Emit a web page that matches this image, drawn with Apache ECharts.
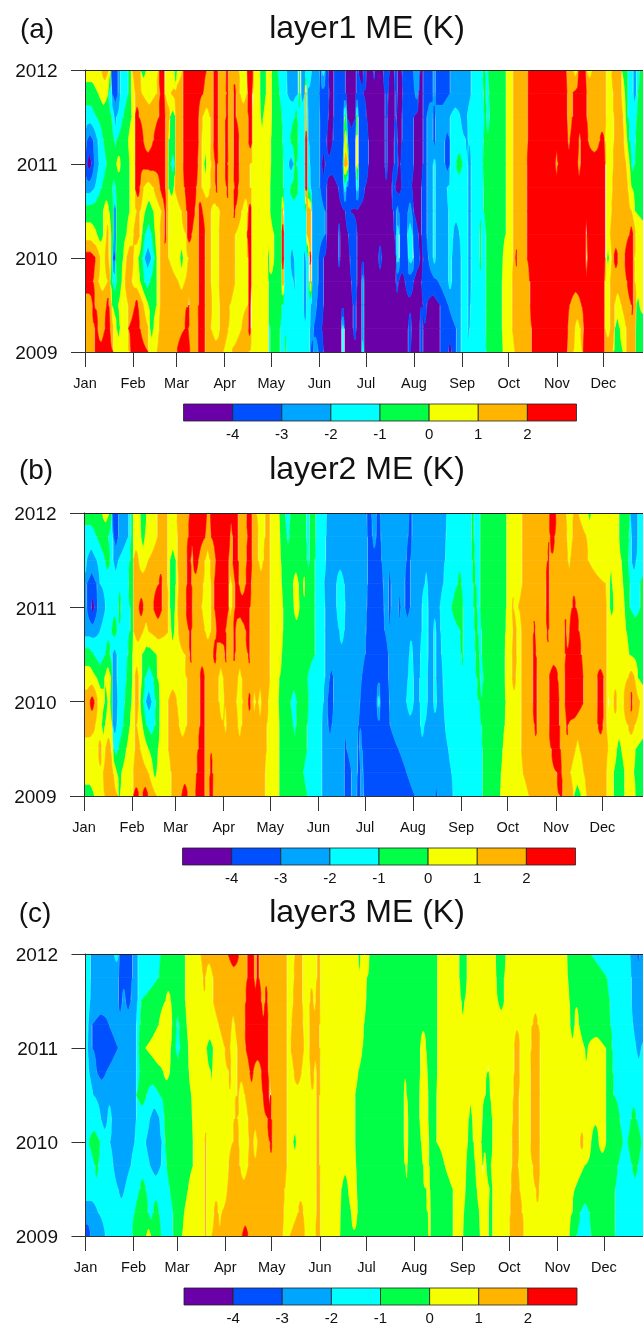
<!DOCTYPE html>
<html><head><meta charset="utf-8">
<style>html,body{margin:0;padding:0;background:#fff;overflow:hidden}#c{width:643px;height:1324px}</style>
<script src="https://cdn.jsdelivr.net/npm/echarts@6/dist/echarts.min.js"></script>
</head><body><div id="c"></div>
<script>
const monthNames=['Jan','Feb','Mar','Apr','May','Jun','Jul','Aug','Sep','Oct','Nov','Dec'];
const monthStartDays=[0,31,59,90,120,151,181,212,243,273,304,334];
const rowYears=[2012,2011.75,2011.5,2011.25,2011,2010.75,2010.5,2010.25,2010,2009.75,2009.5,2009.25,2009];
const bandColors=['#6a00a8','#0050ff','#00a5ff','#00ffff','#00ff46','#f5ff00','#ffb400','#ff0000'];
const colorbarLevels=[-5,-4,-3,-2,-1,0,1,2,3];
const layerTitles=['layer1 ME (K)','layer2 ME (K)','layer3 ME (K)'];
const panelTags=['(a)','(b)','(c)'];
// Each row lists band index, then the position where that band ends.
// Reading unit: 4.656 units per day of year; the three lists cover successive stretches of the year.
const layer1Left=[
[5,50,6,70,5,78,1,100,2,106,3,130,4,138,5,142,6,166,4,184,5,222,7,240,5,268,3,276,5,294,7,365,6,386,7,400,6,423,7,430,6,462,5,486,7,505,5,524,4,544,5,555],
[4,40,5,70,3,80,1,100,2,106,3,130,4,138,5,150,6,170,5,215,6,224,7,238,5,258,6,294,7,355,6,385,7,400,6,424,7,430,6,445,7,452,6,465,5,487,7,503,5,525,4,543,5,555],
[3,35,4,80,3,88,2,95,3,115,4,140,5,150,7,162,6,222,7,240,6,255,4,272,6,295,7,340,6,352,5,375,6,385,7,400,6,422,7,430,6,445,7,452,6,490,7,502,5,527,4,535,5,555],
[2,5,1,25,2,38,3,55,4,88,3,95,4,130,5,150,7,175,6,205,7,240,6,250,4,272,6,295,7,340,6,350,5,375,6,385,7,400,6,420,7,430,6,445,7,462,6,490,7,502,5,555],
[1,5,0,20,1,28,2,42,3,65,4,95,5,107,4,135,5,150,7,240,6,250,4,258,3,270,4,272,6,295,7,338,6,350,5,358,4,365,5,378,6,390,7,398,6,420,7,428,6,445,7,462,6,495,5,555],
[2,30,3,50,4,82,3,92,4,135,5,150,7,165,6,175,5,205,6,225,7,240,6,250,4,268,6,298,7,335,6,350,5,375,6,392,7,398,6,425,7,430,6,448,7,460,6,495,5,555],
[4,55,5,72,4,85,2,95,4,135,5,155,6,165,5,180,4,205,5,230,6,238,7,243,6,250,5,290,6,305,7,330,6,340,7,352,6,378,5,405,6,445,7,450,6,470,5,490,7,500,5,555],
[5,35,4,55,5,65,6,70,5,78,4,85,2,95,4,125,5,145,6,165,5,170,4,180,3,200,4,210,5,225,6,238,7,243,6,250,5,305,7,320,6,340,7,360,6,378,5,402,6,450,5,485,7,500,5,555],
[7,32,6,45,5,60,6,70,5,78,4,82,1,92,4,115,5,125,6,145,5,160,4,172,3,178,2,200,3,208,4,215,5,225,6,250,5,285,4,295,5,310,6,340,7,360,6,378,5,402,6,450,5,490,7,500,5,548,4,552,5,555],
[7,25,6,40,5,68,6,75,4,82,3,95,4,110,5,120,6,140,5,165,4,178,3,195,4,215,5,225,6,280,5,300,6,340,7,360,6,378,5,402,6,450,5,490,7,500,5,550,4,555],
[6,22,7,30,6,65,7,72,6,80,4,100,5,130,6,150,7,160,6,175,5,190,4,215,5,225,6,310,7,314,6,340,7,360,6,380,5,405,6,435,5,490,7,498,5,550,4,555],
[6,30,7,38,6,60,7,75,6,85,5,95,4,105,5,130,7,165,6,190,5,195,4,205,5,222,6,300,7,310,6,338,7,360,6,378,5,405,6,430,5,470,6,490,7,498,5,550,3,555],
[6,30,7,85,5,135,7,190,5,215,6,275,7,315,6,338,7,360,6,415,5,440,6,490,5,550,3,555]];
const layer1Mid=[
[5,4,4,22,3,50,2,85,4,92,2,110,3,125,2,150,1,155,3,165,1,175,0,190,1,225,0,258,1,265,0,280,1,290,0,310,1,315,0,340,1,358,0,372,1,382,0,395,1,430,2,450,0,458,1,490,2,495,1,540,2,549],
[5,5,4,28,3,52,2,85,4,92,2,105,6,110,2,148,1,178,0,190,1,225,0,258,1,280,0,345,1,355,0,375,1,382,0,398,1,435,2,445,0,458,1,490,2,497,1,540,2,549],
[5,5,4,35,3,75,4,82,3,105,6,110,3,115,2,150,1,175,0,190,1,222,4,230,0,258,4,264,1,290,0,345,1,352,0,375,1,380,0,395,1,432,0,458,1,470,2,490,1,497,2,540,3,549],
[5,3,4,38,3,60,4,85,3,105,7,112,3,115,2,150,1,170,0,188,1,222,5,232,1,258,5,264,1,295,0,345,1,352,0,372,1,382,0,395,1,430,0,458,1,470,2,490,1,497,2,525,1,540,3,549],
[5,3,4,40,3,55,2,72,4,80,3,105,7,112,3,120,2,150,1,155,0,165,1,220,6,235,1,258,5,265,1,295,0,345,1,352,0,372,1,385,0,392,1,432,0,458,1,470,2,490,3,497,2,525,1,540,3,549],
[4,40,3,60,4,85,3,105,7,112,3,122,2,150,1,170,0,205,1,222,3,228,1,258,3,265,1,285,0,365,1,375,0,395,1,425,0,455,1,470,2,490,3,497,2,530,3,549],
[4,35,6,41,3,110,6,124,2,165,1,170,0,225,1,240,0,370,1,380,2,385,1,415,2,425,1,430,0,455,1,470,2,490,3,497,2,535,3,549],
[5,12,4,35,7,42,3,110,6,124,2,165,1,170,0,205,1,210,0,235,1,262,0,375,1,380,3,388,1,412,3,428,1,445,0,455,1,470,2,490,3,497,2,535,3,549],
[5,12,4,35,7,42,3,60,2,72,3,100,2,108,3,118,7,124,2,145,1,160,0,205,1,210,0,240,1,260,0,325,1,335,0,380,3,388,1,415,3,430,1,450,0,458,1,475,2,490,3,497,2,535,3,545,2,549],
[4,35,6,42,3,70,2,75,3,100,2,110,3,118,6,125,2,145,1,160,0,245,1,262,0,275,2,282,0,378,1,385,0,405,1,430,0,455,1,505,2,535,3,545,2,549],
[4,35,3,100,2,110,3,122,2,140,1,160,0,250,1,258,0,275,2,282,0,460,1,470,0,510,1,535,2,549],
[4,30,3,120,2,130,1,155,0,215,3,222,0,250,1,258,0,275,2,282,0,415,1,425,0,450,1,458,0,510,1,549],
[4,30,3,45,4,50,3,120,1,130,2,145,1,160,0,215,3,222,0,275,3,282,0,415,1,420,0,450,1,458,0,510,1,535,0,545,1,549]];
const layer1Right=[
[2,55,3,90,4,97,3,105,4,160,5,180,6,225,7,340,6,360,5,375,7,400,5,418,6,460,5,475,6,505,4,525,3,540,2,550,3,560,4,570],
[2,55,3,92,4,98,3,108,4,160,5,180,6,225,7,342,6,358,7,400,6,460,5,480,6,505,5,515,4,525,3,540,2,550,3,555,4,570],
[3,22,2,42,3,95,4,100,3,110,4,160,5,180,6,225,7,342,6,358,7,400,6,460,5,482,6,510,5,518,4,525,3,550,4,570],
[3,38,2,45,3,92,4,160,5,180,6,225,7,345,6,350,7,378,6,382,7,405,6,440,7,455,5,482,6,512,5,522,4,530,3,548,4,570],
[3,10,4,28,3,45,2,55,3,90,4,160,5,180,6,222,7,308,6,314,7,375,6,382,7,458,5,480,6,520,5,530,4,535,3,545,4,570],
[3,45,2,55,3,92,4,158,5,180,6,222,7,458,5,478,6,525,5,535,4,570],
[3,45,2,55,3,92,4,158,5,180,6,222,7,458,5,475,6,535,5,545,4,570],
[2,20,3,45,2,55,3,80,4,85,3,98,4,158,5,180,6,222,7,398,6,402,7,458,5,472,6,530,7,540,6,548,5,570],
[2,25,3,45,2,55,3,80,4,85,3,98,4,150,5,180,6,188,7,192,6,222,7,398,5,402,7,458,5,462,4,468,5,475,6,482,7,495,6,515,7,542,5,570],
[2,25,3,45,2,55,3,98,4,148,5,178,6,230,7,455,5,472,6,522,7,540,6,545,5,570],
[2,25,3,45,2,52,3,98,4,148,5,178,6,232,7,350,6,385,7,455,5,472,6,485,5,505,6,535,7,540,6,550,4,560,5,570],
[1,10,2,25,3,45,2,50,3,98,4,148,5,178,6,235,7,345,6,365,5,382,6,392,7,455,5,472,6,485,4,500,5,520,6,548,4,570],
[1,10,2,25,3,100,4,150,5,185,6,235,7,342,6,362,5,390,7,455,6,480,4,510,5,520,6,548,4,570]];
const layer2Left=[
[4,52,5,72,4,80,1,100,2,130,3,138,4,145,5,165,4,185,5,218,6,248,5,275,6,312,7,365,6,375,7,460,6,485,7,500,6,515,5,540,6,555],
[3,35,4,70,3,85,1,100,2,130,3,138,4,145,5,168,4,180,5,218,6,248,5,278,6,310,7,362,6,378,7,435,6,442,7,460,6,487,7,500,6,520,5,540,6,555],
[3,5,2,35,3,60,4,75,3,85,2,100,3,135,4,145,6,160,5,190,6,248,5,255,4,272,5,278,6,305,7,318,6,325,7,340,6,360,5,375,6,392,7,432,6,442,7,460,6,485,7,500,6,520,5,535,6,555],
[2,5,1,35,2,45,3,130,4,145,6,222,7,232,6,248,5,255,4,272,5,280,6,305,7,320,6,355,5,378,6,388,7,432,5,440,6,450,7,462,6,482,7,498,6,555],
[2,5,1,18,0,28,1,38,2,62,3,100,4,108,3,135,4,145,6,162,7,175,6,205,7,232,6,250,5,255,4,270,5,278,6,302,7,322,6,350,5,378,6,388,7,432,5,440,6,450,7,495,6,555],
[2,45,3,80,4,95,3,135,4,145,6,175,5,190,6,250,5,258,4,268,5,280,6,312,7,320,6,360,5,378,6,395,7,422,6,445,7,452,6,482,7,495,6,555],
[4,25,3,62,4,75,3,82,2,95,3,128,4,143,5,170,4,215,5,300,6,315,7,320,6,385,7,395,6,420,7,425,6,445,7,450,6,490,7,495,6,555],
[5,35,4,58,5,78,4,82,2,95,3,125,4,143,5,150,6,160,5,170,4,180,3,205,4,218,5,305,6,345,7,358,6,400,5,415,6,458,5,470,6,555],
[6,15,7,28,6,38,5,58,4,68,5,75,4,82,2,98,3,120,4,140,5,150,6,160,5,165,4,175,3,182,2,200,3,212,4,225,5,250,6,275,5,305,6,345,7,358,6,402,5,418,6,455,5,472,6,490,7,497,6,505,5,512,6,520,5,530,6,550,5,555],
[6,30,5,50,4,60,5,82,2,95,3,115,4,135,5,150,6,155,5,172,4,185,3,210,4,225,5,250,6,282,5,305,6,345,7,358,6,418,5,425,6,458,5,470,6,545,5,555],
[5,40,6,50,5,62,6,78,5,85,3,100,4,125,5,150,6,165,5,190,4,220,5,250,6,340,7,358,6,545,5,555],
[5,55,6,85,5,95,4,110,5,145,6,190,5,205,4,215,5,258,6,335,7,358,6,375,7,382,6,540,5,555],
[4,28,5,58,6,100,4,105,5,145,7,162,6,172,7,190,6,215,5,260,6,290,7,308,6,332,7,360,6,372,7,385,6,540,5,555]];
const layer2Mid=[
[5,28,4,45,3,60,4,110,3,118,4,138,3,170,2,290,1,305,2,320,1,330,2,418,1,425,2,530,3,549],
[5,30,4,50,3,58,4,110,3,118,4,138,3,168,2,292,1,308,2,318,1,332,2,415,1,425,2,528,3,549],
[5,32,4,112,3,118,4,135,3,168,2,292,1,335,2,410,1,420,2,525,3,549],
[5,35,4,70,5,85,4,100,5,105,4,135,3,162,2,200,3,222,2,292,1,340,2,355,1,362,2,405,1,420,2,465,3,472,2,520,3,549],
[5,38,4,72,5,88,4,135,3,165,2,200,3,225,2,290,1,342,2,355,1,362,2,385,1,392,2,405,1,420,2,455,3,475,2,510,3,545,4,549],
[5,38,4,135,3,165,2,208,3,222,2,288,1,345,2,455,3,475,2,490,3,498,2,512,3,549],
[5,35,4,135,3,165,2,285,1,355,2,418,3,428,2,452,3,475,2,490,3,498,2,515,3,549],
[5,28,4,112,3,165,2,178,1,190,2,275,1,355,2,415,3,430,2,450,3,472,2,490,3,498,2,518,3,549],
[5,25,4,62,3,80,4,115,3,160,2,172,1,190,2,270,1,322,3,330,1,358,2,410,3,430,2,450,3,472,2,490,3,500,2,520,3,549],
[5,28,4,70,3,78,4,112,3,155,2,175,1,185,2,265,1,360,2,452,3,462,2,525,3,549],
[5,28,4,112,3,155,2,222,1,230,2,262,1,268,2,275,1,385,2,535,3,549],
[5,28,4,100,3,155,2,222,1,245,2,262,1,272,2,280,1,410,2,545,3,549],
[5,28,4,112,3,155,2,222,1,245,2,260,1,272,2,282,1,435,2,495,1,502,2,549]];
const layer2Right=[
[3,55,4,62,3,82,4,160,5,208,6,288,7,310,6,340,5,360,6,375,5,405,4,415,5,498,4,530,2,555,3,570],
[3,55,4,62,3,82,4,160,5,208,6,292,7,305,6,342,5,358,6,400,5,498,4,528,3,535,2,555,3,570],
[3,58,4,65,3,82,4,160,5,208,6,285,7,288,6,345,5,352,6,405,5,505,4,525,3,535,2,550,3,570],
[3,15,4,25,3,60,4,68,3,82,4,160,5,208,6,280,7,288,6,458,5,470,4,478,5,510,4,530,3,560,4,570],
[4,30,3,62,4,72,3,82,4,160,5,178,6,182,5,195,6,280,7,288,6,358,7,368,6,460,5,470,4,482,5,515,4,530,3,562,4,570],
[3,22,4,30,3,65,4,75,3,85,4,158,5,180,6,190,5,205,6,242,7,246,6,282,7,287,6,335,7,340,6,350,7,378,6,460,5,520,4,570],
[3,25,4,30,3,68,4,78,3,85,4,155,5,178,6,190,5,205,6,240,7,248,6,338,7,385,6,460,5,528,4,570],
[3,72,4,82,3,90,4,155,5,178,6,188,5,205,6,240,7,252,6,288,7,315,6,335,7,390,6,432,7,452,6,460,5,525,6,545,5,555,4,570],
[3,80,4,158,5,205,6,240,7,252,6,288,7,318,6,335,7,392,6,432,7,452,6,460,5,465,4,468,5,482,6,492,5,512,6,532,7,538,6,560,5,570],
[3,85,4,155,5,205,6,245,7,252,6,288,7,320,6,340,7,345,6,435,7,450,6,460,5,525,6,545,5,570],
[3,88,4,150,5,205,6,295,7,322,6,368,5,380,6,465,5,492,4,505,5,548,4,570],
[3,88,4,145,5,210,6,312,7,325,6,352,5,392,6,460,5,482,4,515,5,542,4,570],
[3,88,4,142,5,228,6,322,7,328,6,362,4,385,5,400,6,462,5,482,4,515,5,548,4,570]];
const layer3Left=[
[3,18,2,88,3,102,1,142,2,158,3,228,4,302,5,348,6,430,7,462,6,488,7,508,6,515,7,522,6,555],
[3,18,2,100,1,142,2,158,3,222,4,302,5,355,6,362,5,385,6,488,7,508,6,515,7,522,6,555],
[3,15,2,100,1,112,2,122,1,138,2,158,3,168,4,242,5,258,4,302,5,385,6,482,7,530,6,540,7,548,6,555],
[3,10,2,22,1,72,2,155,3,165,4,222,5,262,4,275,3,282,4,305,5,402,6,440,5,450,6,480,7,550,6,555],
[3,8,2,22,1,100,2,155,3,162,4,182,5,258,4,272,3,285,4,310,5,365,4,385,5,420,6,435,5,458,6,482,7,550,6,555],
[3,12,2,35,1,65,2,155,3,165,4,235,5,255,4,312,5,378,4,382,5,432,6,438,5,458,6,495,7,505,6,530,7,550,6,555],
[3,25,2,155,4,185,3,225,4,320,5,458,6,462,5,480,6,535,7,552,6,555],
[3,48,2,68,3,80,2,155,3,195,2,225,3,238,4,322,5,450,6,458,5,490,6,548,7,555],
[3,12,4,45,3,75,2,150,3,182,2,232,3,240,4,325,5,360,6,365,5,445,6,462,5,492,6,505,5,518,6,555],
[3,30,4,40,3,85,2,138,3,195,2,228,3,245,4,325,5,360,6,365,5,432,6,465,5,490,6,555],
[3,100,2,120,3,165,4,182,3,255,4,310,5,360,6,365,5,428,6,555],
[2,40,3,150,4,190,3,205,4,222,3,265,4,298,5,360,6,365,5,388,6,400,5,410,6,555],
[1,18,2,62,3,142,4,185,5,198,4,228,3,265,4,292,5,360,6,365,5,380,6,472,7,490,6,555]];
const layer3Mid=[
[6,50,5,75,6,98,5,142,6,152,5,265,4,272,5,298,4,502,5,549],
[6,50,5,72,6,98,5,142,6,152,5,290,4,502,5,549],
[6,50,5,70,6,98,5,120,6,130,5,138,6,152,5,288,4,502,5,549],
[6,50,5,65,6,100,5,118,6,150,5,282,4,502,5,549],
[6,50,5,62,6,102,5,118,6,150,5,278,4,452,5,468,4,502,5,549],
[6,50,5,72,6,95,5,122,6,132,5,140,6,152,5,265,4,452,5,472,4,502,5,549],
[7,3,6,50,5,140,6,150,5,255,4,402,5,410,4,450,5,475,4,500,5,549],
[7,5,6,50,5,140,6,150,5,255,4,402,5,415,4,450,5,475,4,500,5,549],
[7,7,6,50,5,70,4,80,5,140,6,150,5,255,4,402,5,415,4,455,5,478,4,500,5,549],
[6,50,5,140,6,150,5,258,4,408,5,412,4,460,5,478,4,525,5,549],
[6,45,5,140,6,152,5,215,4,235,5,260,4,470,5,480,4,549],
[6,42,5,85,6,100,5,140,6,152,5,212,4,245,5,262,4,475,5,482,4,549],
[6,40,5,60,6,105,5,138,6,152,5,210,4,478,5,482,4,549]];
const layer3Right=[
[5,20,4,42,5,128,4,158,5,342,4,412,3,532,2,552,1,560,2,570],
[5,20,4,42,5,130,4,155,5,345,4,462,3,535,2,570],
[5,25,4,35,5,135,4,155,5,350,4,470,3,535,2,570],
[5,240,6,255,5,352,4,365,5,378,4,472,3,540,2,570],
[5,185,6,200,5,235,6,262,5,395,4,405,5,458,4,478,3,550,2,565,3,570],
[5,105,4,108,5,185,6,200,5,232,6,262,5,460,4,480,3,570],
[5,98,4,112,5,182,6,198,5,232,6,262,5,460,4,482,3,570],
[5,48,4,58,5,88,4,118,5,180,6,198,5,232,6,262,5,460,4,500,3,535,4,550,3,570],
[5,45,4,62,5,85,4,120,5,178,6,198,5,232,6,262,5,382,6,392,5,415,4,438,5,460,4,510,3,525,4,565,3,570],
[5,40,4,68,5,88,4,92,5,100,4,115,5,178,6,195,5,240,6,260,5,395,4,495,3,538,4,555,3,570],
[5,38,4,72,5,110,4,118,5,175,6,200,5,250,6,258,5,365,4,487,3,570],
[5,32,4,80,5,108,4,118,5,172,6,208,5,358,4,382,3,410,4,487,3,570],
[5,30,4,82,5,108,4,118,5,170,6,212,5,350,4,370,3,415,4,487,3,570]];

const unitsPerDay=4.656, stretchStarts=[0,555,1104], stretchEnds=[555,1104,2000], yearEnd=365;
const panels=[
 {left:85,top:70,height:282,shift:0,rows:[layer1Left,layer1Mid,layer1Right],barLeft:183.5,barTop:404,barH:17,tagY:28,tagX:37,titleY:27},
 {left:84,top:513,height:283,shift:3,rows:[layer2Left,layer2Mid,layer2Right],barLeft:182.5,barTop:848,barH:17,tagY:469,tagX:36,titleY:468},
 {left:85.5,top:954,height:282,shift:-2,rows:[layer3Left,layer3Mid,layer3Right],barLeft:184,barTop:1288,barH:17,tagY:912,tagX:35,titleY:911}];
const pxPerDay=1.552, step=0.5;

function decodeRow(p,r){
  const runs=[]; let start=0;
  p.rows.forEach((lists,s)=>{
    const a=lists[r];
    for(let i=0;i<a.length;i+=2){
      let end=Math.min(stretchStarts[s]+a[i+1],stretchEnds[s]);
      if(end<=start) continue;
      const d0=(start+p.shift)/unitsPerDay,d1=(end+p.shift)/unitsPerDay;
      if(runs.length&&runs[runs.length-1].b===a[i]) runs[runs.length-1].x1=d1;
      else runs.push({b:a[i],x0:Math.max(d0,0),x1:d1});
      start=end;
    }
  });
  runs[runs.length-1].x1=yearEnd+1;
  return runs;
}
function profile(runs,n){
  const k=[];
  runs.forEach((u,i)=>{
    k.push([(u.x0+u.x1)/2,u.b+0.5]);
    if(i<runs.length-1){
      const v=runs[i+1],x=u.x1,g=Math.abs(u.b-v.b);
      if(g===1) k.push([x,Math.max(u.b,v.b)]);
      else{
        const d=0.07*(g-1);
        if(u.b<v.b){k.push([x-d,u.b+1]);k.push([x+d,v.b]);}
        else{k.push([x-d,u.b]);k.push([x+d,v.b+1]);}
      }
    }
  });
  k.unshift([-1,runs[0].b+0.5]);
  k.sort((a,b)=>a[0]-b[0]);
  const out=new Float32Array(n); let j=0;
  for(let i=0;i<n;i++){
    const x=i*step;
    while(j<k.length-2&&k[j+1][0]<x) j++;
    const a=k[j],b=k[j+1];
    const t=b[0]>a[0]?Math.min(1,Math.max(0,(x-a[0])/(b[0]-a[0]))):1;
    out[i]=a[1]+(b[1]-a[1])*t;
  }
  return out;
}
function bandSpan(vT,vB,b){
  const lo=b===0?-1e9:b, hi=b===7?1e9:b+1;
  if(vT===vB) return vT>=lo&&vT<hi?[0,1]:null;
  let t0=(lo-vT)/(vB-vT), t1=(hi-vT)/(vB-vT);
  if(t0>t1){const s=t0;t0=t1;t1=s;}
  t0=Math.max(0,t0);t1=Math.min(1,t1);
  return t1>t0?[t0,t1]:null;
}
function thin(ch){
  return ch.filter((p,i)=>i===0||i===ch.length-1||!(ch[i-1][1]===p[1]&&ch[i+1][1]===p[1]));
}
function buildPolygons(p){
  const n=Math.floor(yearEnd/step)+1, prof=rowYears.map((y,r)=>profile(decodeRow(p,r),n)), polys=[];
  for(let r=0;r<rowYears.length-1;r++){
    const yT=rowYears[r],yB=rowYears[r+1],T=prof[r],B=prof[r+1];
    for(let b=0;b<8;b++){
      let top=null,bot=null;
      const flush=()=>{
        if(top&&top.length>1){polys.push({band:b,pts:thin(top).concat(thin(bot).reverse())});}
        top=bot=null;
      };
      for(let i=0;i<n;i++){
        const s=bandSpan(T[i],B[i],b);
        if(!s){flush();continue;}
        if(!top){top=[];bot=[];}
        const x=i*step;
        top.push([x,yT+(yB-yT)*s[0]]);
        bot.push([x,yT+(yB-yT)*s[1]]);
      }
      flush();
    }
  }
  return polys;
}
const axisTxt={color:'#111',fontFamily:'Liberation Sans'};
const option={animation:false,title:[],grid:[],xAxis:[],yAxis:[],series:[]};
panels.forEach((p,i)=>{
  option.title.push({text:layerTitles[i],left:367,top:p.titleY-14,textAlign:'center',padding:0,
    textStyle:{fontSize:32,fontWeight:'normal',color:'#111',fontFamily:'Liberation Sans'}});
  option.title.push({text:panelTags[i],left:p.tagX,top:p.tagY-11.5,textAlign:'center',padding:0,
    textStyle:{fontSize:28,fontWeight:'normal',color:'#111',fontFamily:'Liberation Sans'}});
  const g=option.grid.length;
  option.grid.push({left:p.left,top:p.top,width:yearEnd*pxPerDay,height:p.height,containLabel:false,outerBoundsMode:'none'});
  const xi=option.xAxis.length,yi=option.yAxis.length;
  option.xAxis.push({type:'value',gridIndex:g,min:0,max:yearEnd,position:'bottom',z:5,splitLine:{show:false},
    axisLine:{show:true,onZero:false,lineStyle:{color:'#333',width:1}},
    axisTick:{show:true,length:15,inside:false,customValues:monthStartDays,lineStyle:{color:'#333',width:1}},
    axisLabel:{show:true,margin:24,fontSize:14.5,...axisTxt,customValues:monthStartDays,hideOverlap:false,
      formatter:v=>monthNames[monthStartDays.indexOf(v)]}});
  option.xAxis.push({type:'value',gridIndex:g,min:0,max:yearEnd,position:'top',z:5,splitLine:{show:false},
    axisLine:{show:true,onZero:false,lineStyle:{color:'#222',width:1}},axisTick:{show:false},axisLabel:{show:false}});
  option.yAxis.push({type:'value',gridIndex:g,min:2009,max:2012,interval:1,z:5,splitLine:{show:false},
    axisLine:{show:true,onZero:false,lineStyle:{color:'#333',width:1}},
    axisTick:{show:true,length:14,lineStyle:{color:'#333',width:1}},
    axisLabel:{show:true,margin:27.5,...axisTxt,formatter:v=>'{a|'+v+'}',
      rich:{a:{fontSize:19,color:'#111',fontFamily:'Liberation Sans',padding:[4,0,0,0]}}}});
  const polys=buildPolygons(p);
  option.series.push({type:'custom',coordinateSystem:'cartesian2d',xAxisIndex:xi,yAxisIndex:yi,clip:true,silent:true,progressive:0,
    data:polys.map(q=>[q.pts[0][0],q.pts[0][1],q.band]),
    renderItem:(params,api)=>{
      const q=polys[params.dataIndex],c=bandColors[q.band];
      return {type:'polygon',shape:{points:q.pts.map(v=>api.coord(v))},style:{fill:c,stroke:c,lineWidth:0.6}};
    }});
  // colour bar
  const bg=option.grid.length;
  option.grid.push({left:p.barLeft,top:p.barTop,width:393,height:p.barH,outerBoundsMode:'none'});
  const bx=option.xAxis.length,by=option.yAxis.length;
  option.xAxis.push({type:'value',gridIndex:bg,min:-5,max:3,interval:1,splitLine:{show:false},axisLine:{show:false},axisTick:{show:false},
    axisLabel:{show:true,margin:6,fontSize:15,...axisTxt,showMinLabel:false,showMaxLabel:false,formatter:v=>(v<=-5||v>=3)?'':String(v)}});
  option.yAxis.push({type:'value',gridIndex:bg,min:0,max:1,show:false});
  const cells=bandColors.map((c,k)=>[colorbarLevels[k],colorbarLevels[k+1],k]);
  option.series.push({type:'custom',coordinateSystem:'cartesian2d',xAxisIndex:bx,yAxisIndex:by,silent:true,clip:false,progressive:0,
    encode:{x:[0,1]},data:cells,
    renderItem:(params,api)=>{
      const a=api.coord([api.value(0),1]),b=api.coord([api.value(1),0]);
      return {type:'rect',shape:{x:a[0],y:a[1],width:b[0]-a[0],height:b[1]-a[1]},
        style:{fill:bandColors[api.value(2)],stroke:'#222',lineWidth:0.8}};
    }});
});
const chart=echarts.init(document.getElementById('c'),null,{renderer:'canvas',width:643,height:1324});
chart.setOption(option);
</script></body></html>
